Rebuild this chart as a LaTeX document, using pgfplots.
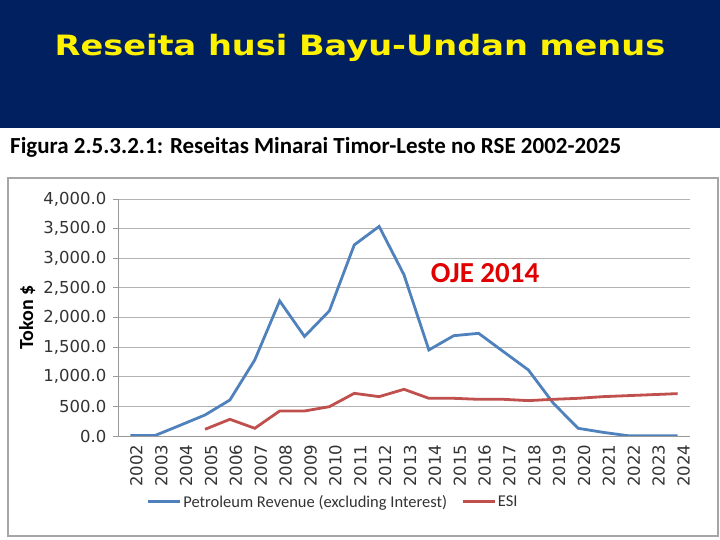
\documentclass[border=0pt]{standalone}
\usepackage{pgfplots}
\pgfplotsset{compat=1.18}
\usepackage{fontspec}
\setmainfont{Carlito}
\newfontfamily\titlefont{DejaVu Sans}
\newfontfamily\tickfont{DejaVu Sans}
\definecolor{navy}{RGB}{0,32,96}
\definecolor{prblue}{RGB}{79,129,189}
\definecolor{esired}{RGB}{192,80,77}
\definecolor{ojered}{RGB}{224,0,0}
\begin{document}
\begin{tikzpicture}
\useasboundingbox (0,0) rectangle (720pt,540pt);
\fill[white] (0,0) rectangle (720pt,540pt);
\fill[navy] (0,412pt) rectangle (720pt,540pt);
\node[text=yellow, font=\titlefont\bfseries\fontsize{28}{32}\selectfont] at (360pt,492pt) {\scalebox{1.2}[1]{Reseita husi Bayu-Undan menus}};
\node[anchor=west, inner sep=0pt, font=\bfseries\fontsize{23}{26}\selectfont] at (10pt,393pt) {Figura 2.5.3.2.1: Reseitas Minarai Timor-Leste no RSE 2002-2025};
\draw[gray!70, line width=1.5pt] (8pt,4pt) rectangle (718pt,362pt);
\begin{axis}[
  scale only axis, width=572pt, height=237pt,
  at={(118pt,104pt)}, anchor=south west,
  xmin=-0.5, xmax=22.5, ymin=0, ymax=4000,
  axis lines=left, axis line style={-, gray!80, line width=0.8pt},
  ytick={0,500,...,4000},
  ymajorgrids, grid style={gray!60, line width=0.8pt},
  major tick length=5pt, tick style={gray!80, line width=0.8pt},
  tick align=outside,
  xtick={0,...,22},
  xticklabels={2002,2003,2004,2005,2006,2007,2008,2009,2010,2011,2012,2013,2014,2015,2016,2017,2018,2019,2020,2021,2022,2023,2024},
  xtick style={draw=none},
  minor xtick={-0.5,0.5,...,22.5},
  minor tick length=6pt,
  xticklabel style={rotate=90, anchor=east, font=\tickfont\fontsize{16.5}{18}\selectfont, text=black!80, yshift=-6pt},
  yticklabel style={font=\tickfont\fontsize{16.5}{18}\selectfont, text=black!80, xshift=-3pt, /pgf/number format/.cd, fixed, fixed zerofill, precision=1, 1000 sep={,}},
  /pgf/number format/assume math mode=true,
  scaled y ticks=false,
  ylabel={\bfseries Tokon \$},
  ylabel style={font=\fontsize{20}{22}\selectfont, rotate=0, at={(axis description cs:-0.159,0.5)}, anchor=center},
  legend style={draw=none, at={(0.376,-0.278)}, anchor=center, legend columns=2, font=\fontsize{16.5}{19}\selectfont, text=black!80, /tikz/every even column/.append style={column sep=12pt}},
  legend image code/.code={\draw[#1] (0pt,0pt) -- (32pt,0pt);},
]
\addplot[prblue, line width=2.8pt] coordinates {
(0,10) (1,10) (2,181) (3,355) (4,608) (5,1284) (6,2280) (7,1680) (8,2113) (9,3225) (10,3537) (11,2720) (12,1452) (13,1693) (14,1733) (15,1423) (16,1115) (17,555) (18,130) (19,62) (20,5) (21,5) (22,5)
};
\addlegendentry{Petroleum Revenue (excluding Interest)}
\addplot[esired, line width=2.8pt] coordinates {
(3,113) (4,282) (5,130) (6,422) (7,422) (8,495) (9,720) (10,664) (11,788) (12,636) (13,636) (14,619) (15,619) (16,597) (17,619) (18,636) (19,664) (20,681) (21,698) (22,715)
};
\addlegendentry{ESI}
\node[text=ojered, font=\bfseries\fontsize{29}{32}\selectfont] at (axis cs:14.26,2750) {OJE 2014};
\end{axis}
\end{tikzpicture}
\end{document}
